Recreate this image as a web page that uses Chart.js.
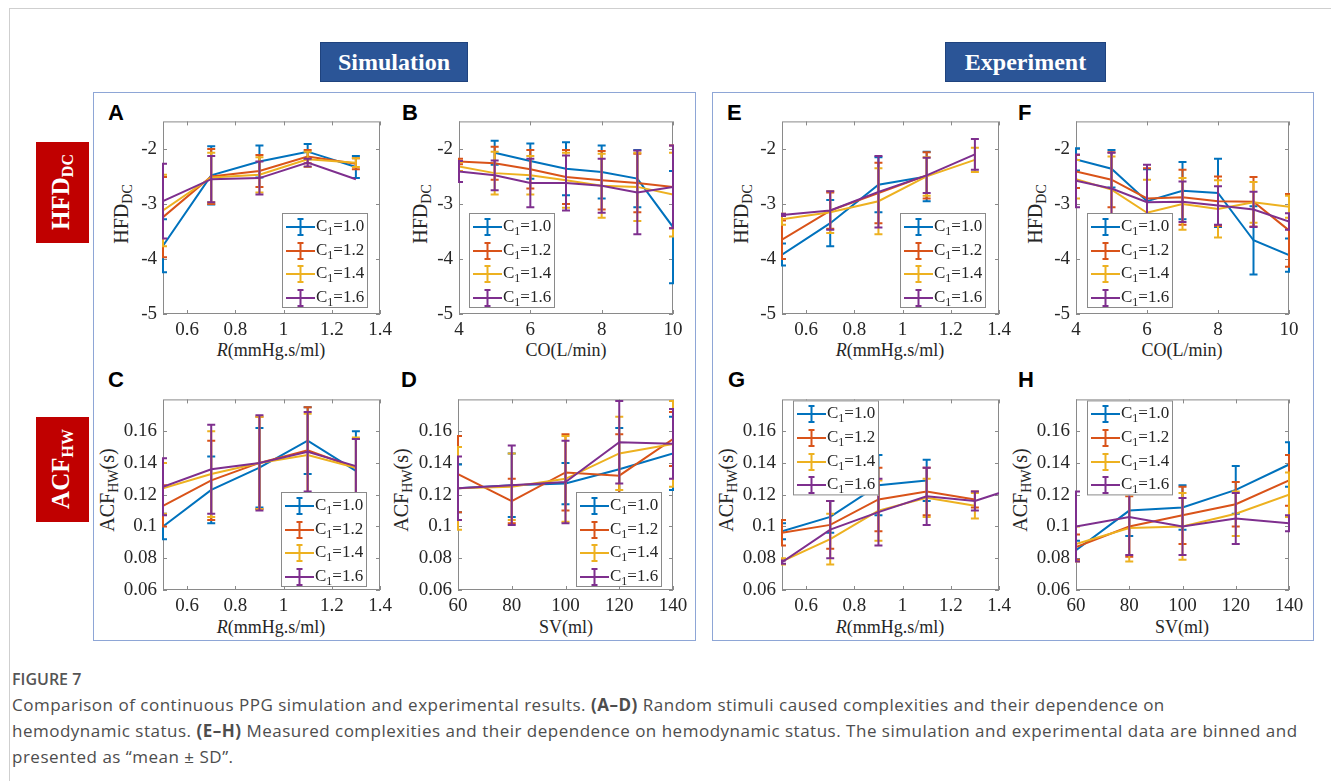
<!DOCTYPE html>
<html>
<head>
<meta charset="utf-8">
<script src="https://cdn.jsdelivr.net/npm/chart.js@4.4.0/dist/chart.umd.min.js"></script>
<style>
  body { margin: 0; background: #fff; width: 1331px; height: 781px; position: relative; overflow: hidden; font-family: "Liberation Serif", serif; }
  .frame { position: absolute; border-left: 1px solid #cfcfcf; border-top: 1px solid #cfcfcf; left: 9px; top: 8px; width: 1400px; height: 800px; }
  .hdr { position: absolute; background: #2b5597; color: #fff; font: bold 24px "Liberation Serif", serif; text-align: center; line-height: 40px; height: 40px; box-shadow: inset 0 0 0 1px #1f437e; }
  .group { position: absolute; border: 1.5px solid #8ea6d6; box-sizing: border-box; }
  .rowlab { position: absolute; background: #c00000; width: 53px; }
  .rot { position: absolute; transform: translate(-50%, -50%) rotate(-90deg); white-space: nowrap; }
  .rowlab .rot { color: #fff; font: bold 25px "Liberation Serif", serif; }
  .rowlab sub { font-size: 16px; vertical-align: -4px; }
  .ytit { font: 20px "Liberation Serif", serif; color: #262626; }
  .ytit sub { font-size: 14px; vertical-align: -4px; }
  .xtit { position: absolute; transform: translateX(-50%); white-space: nowrap; font: 18px "Liberation Serif", serif; color: #262626; }
  .letter { position: absolute; font: bold 22px "Liberation Sans", sans-serif; line-height: 22px; color: #000; }
  .panel { position: absolute; }
  .cap { position: absolute; left: 12px; font-family: "Open Sans", sans-serif; color: #4d4d4d; white-space: nowrap; }
  .txt { font-size: 17px; letter-spacing: 0.5px; }
</style>
</head>
<body>
<div class="frame"></div>

<div class="hdr" style="left:320px;top:42px;width:148px;">Simulation</div>
<div class="hdr" style="left:945px;top:42px;width:161px;">Experiment</div>

<div class="group" style="left:93px;top:92px;width:603px;height:549px;"></div>
<div class="group" style="left:712px;top:92px;width:602px;height:549px;"></div>

<div class="rowlab" style="left:36px;top:142px;height:101px;"><div class="rot" style="left:26px;top:50px;">HFD<sub>DC</sub></div></div>
<div class="rowlab" style="left:36px;top:417px;height:105px;"><div class="rot" style="left:26px;top:52px;">ACF<sub>HW</sub></div></div>

<div class="letter" style="left:108px;top:102px;">A</div>
<div class="letter" style="left:402px;top:102px;">B</div>
<div class="letter" style="left:727px;top:102px;">E</div>
<div class="letter" style="left:1018px;top:102px;">F</div>
<div class="letter" style="left:108px;top:369px;">C</div>
<div class="letter" style="left:401px;top:369px;">D</div>
<div class="letter" style="left:728px;top:369px;">G</div>
<div class="letter" style="left:1018px;top:369px;">H</div>

<div class="rot ytit" style="left:123px;top:214px;">HFD<sub>DC</sub></div>
<div class="rot ytit" style="left:422px;top:214px;">HFD<sub>DC</sub></div>
<div class="rot ytit" style="left:743px;top:214px;">HFD<sub>DC</sub></div>
<div class="rot ytit" style="left:1037px;top:214px;">HFD<sub>DC</sub></div>
<div class="rot ytit" style="left:109px;top:490px;">ACF<sub>HW</sub>(s)</div>
<div class="rot ytit" style="left:403px;top:490px;">ACF<sub>HW</sub>(s)</div>
<div class="rot ytit" style="left:728px;top:490px;">ACF<sub>HW</sub>(s)</div>
<div class="rot ytit" style="left:1022px;top:490px;">ACF<sub>HW</sub>(s)</div>

<div class="xtit" style="left:271px;top:340px;"><i>R</i>(mmHg.s/ml)</div>
<div class="xtit" style="left:566px;top:340px;">CO(L/min)</div>
<div class="xtit" style="left:890px;top:340px;"><i>R</i>(mmHg.s/ml)</div>
<div class="xtit" style="left:1182px;top:340px;">CO(L/min)</div>
<div class="xtit" style="left:271px;top:617px;"><i>R</i>(mmHg.s/ml)</div>
<div class="xtit" style="left:566px;top:617px;">SV(ml)</div>
<div class="xtit" style="left:890px;top:617px;"><i>R</i>(mmHg.s/ml)</div>
<div class="xtit" style="left:1182px;top:617px;">SV(ml)</div>

<div class="panel" id="pA"><canvas id="cA"></canvas></div>
<div class="panel" id="pB"><canvas id="cB"></canvas></div>
<div class="panel" id="pE"><canvas id="cE"></canvas></div>
<div class="panel" id="pF"><canvas id="cF"></canvas></div>
<div class="panel" id="pC"><canvas id="cC"></canvas></div>
<div class="panel" id="pD"><canvas id="cD"></canvas></div>
<div class="panel" id="pG"><canvas id="cG"></canvas></div>
<div class="panel" id="pH"><canvas id="cH"></canvas></div>

<div class="cap" style="top:668px;font-size:16px;font-weight:600;color:#555;">FIGURE 7</div>
<div class="cap txt" style="top:693px;">Comparison of continuous PPG simulation and experimental results. <b>(A–D)</b> Random stimuli caused complexities and their dependence on</div>
<div class="cap txt" style="top:719px;">hemodynamic status. <b>(E–H)</b> Measured complexities and their dependence on hemodynamic status. The simulation and experimental data are binned and</div>
<div class="cap txt" style="top:745px;">presented as “mean ± SD”.</div>

<script>
(() => {
    'use strict';

    // x positions
    const xsR = [0.5, 0.7, 0.9, 1.1, 1.3];
    const xsRg = [0.5, 0.7, 0.9, 1.1, 1.3, 1.5];
    const xsCO = [4, 5, 6, 7, 8, 9, 10];
    const xsSV = [60, 80, 100, 120, 140];

    // tick labels
    const rTicks = [0.6, 0.8, 1, 1.2, 1.4];
    const coTicks = [4, 6, 8, 10];
    const svTicks = [60, 80, 100, 120, 140];
    const hfdTicks = [-5, -4, -3, -2];
    const acfTicks = [0.06, 0.08, 0.1, 0.12, 0.14, 0.16];

    // series: C1 = 1.0, 1.2, 1.4, 1.6
    const c1Values = ['1.0', '1.2', '1.4', '1.6'];
    const COLORS = ['#0072BD', '#D95319', '#EDB120', '#7E2F8E'];

    // A - simulation HFD vs R
    const meanA = [
        [-3.76, -2.48, -2.23, -2.05, -2.33],
        [-3.24, -2.50, -2.40, -2.14, -2.27],
        [-3.12, -2.52, -2.47, -2.19, -2.25],
        [-2.95, -2.55, -2.53, -2.25, -2.55]
    ];
    const sdA = [
        [0.48, 0.53, 0.29, 0.14, 0.20],
        [0.73, 0.50, 0.29, 0.12, 0.10],
        [0.65, 0.45, 0.32, 0.14, 0.08],
        [0.68, 0.42, 0.30, 0.07, 0]
    ];

    // B - simulation HFD vs CO
    const meanB = [
        [null, -2.07, -2.22, -2.36, -2.42, -2.54, -3.42],
        [-2.23, -2.26, -2.37, -2.51, -2.57, -2.62, -2.69],
        [-2.32, -2.44, -2.48, -2.57, -2.67, -2.69, -2.83],
        [-2.41, -2.48, -2.62, -2.62, -2.67, -2.79, -2.69]
    ];
    const sdB = [
        [0, 0.22, 0.32, 0.48, 0.48, 0.52, 1.02],
        [0.05, 0.30, 0.35, 0.49, 0.53, 0.53, 0.75],
        [0.08, 0.39, 0.35, 0.50, 0.58, 0.62, 0.76],
        [0.19, 0.27, 0.44, 0.50, 0.49, 0.76, 0.75]
    ];

    // C - simulation ACF vs R
    const meanC = [
        [0.100, 0.123, 0.137, 0.154, 0.135],
        [0.113, 0.129, 0.140, 0.148, 0.137],
        [0.124, 0.133, 0.140, 0.145, 0.137],
        [0.125, 0.136, 0.140, 0.147, 0.138]
    ];
    const sdC = [
        [0.008, 0.021, 0.025, 0.021, 0.025],
        [0.013, 0.025, 0.029, 0.027, 0.018],
        [0.016, 0.027, 0.029, 0.026, 0.019],
        [0.018, 0.028, 0.030, 0.025, 0.017]
    ];

    // D - simulation ACF vs SV
    const meanD = [
        [0.124, 0.126, 0.127, 0.136, 0.146],
        [0.133, 0.116, 0.134, 0.132, 0.155],
        [0.124, 0.125, 0.130, 0.146, 0.152],
        [0.124, 0.126, 0.128, 0.153, 0.152]
    ];
    const sdD = [
        [0.015, 0.020, 0.013, 0.026, 0.023],
        [0.024, 0.014, 0.024, 0.026, 0.017],
        [0.026, 0.021, 0.027, 0.023, 0.027],
        [0.020, 0.025, 0.026, 0.026, 0.022]
    ];

    // E - experiment HFD vs R
    const meanE = [
        [-3.92, -3.35, -2.65, -2.50, null],
        [-3.65, -3.12, -2.80, -2.48, null],
        [-3.28, -3.15, -2.95, -2.50, -2.20],
        [-3.20, -3.12, -2.78, -2.48, -2.10]
    ];
    const sdE = [
        [0.20, 0.42, 0.50, 0.45, 0],
        [0.35, 0.33, 0.55, 0.42, 0],
        [0.10, 0.38, 0.60, 0.35, 0.22],
        [0.02, 0.35, 0.65, 0.32, 0.28]
    ];

    // F - experiment HFD vs CO
    const meanF = [
        [-2.19, -2.36, -2.95, -2.76, -2.80, -3.66, -3.93],
        [-2.41, -2.56, -2.90, -2.88, -2.95, -2.96, -3.48],
        [-2.55, -2.74, -3.16, -3.00, -3.09, -2.97, -3.05],
        [-2.58, -2.72, -2.97, -2.96, -3.03, -3.10, -3.32]
    ];
    const sdF = [
        [0.20, 0.34, 0.58, 0.52, 0.62, 0.62, 0.30],
        [0.30, 0.50, 0.55, 0.50, 0.45, 0.45, 0.66],
        [0.35, 0.60, 0.60, 0.47, 0.52, 0.37, 0.20],
        [0.48, 0.65, 0.68, 0.37, 0.35, 0.32, 0.15]
    ];

    // G - experiment ACF vs R
    const meanG = [
        [0.097, 0.106, 0.126, 0.129, null, null],
        [0.096, 0.101, 0.117, 0.122, 0.117, null],
        [0.078, 0.092, 0.110, 0.118, 0.113, null],
        [0.0775, 0.098, 0.109, 0.119, 0.116, 0.126]
    ];
    const sdG = [
        [0.005, 0.010, 0.019, 0.013, 0, 0],
        [0.008, 0.015, 0.020, 0.015, 0.005, 0],
        [0.002, 0.016, 0.019, 0.012, 0.008, 0],
        [0.001, 0.018, 0.021, 0.018, 0.006, 0]
    ];

    // H - experiment ACF vs SV
    const meanH = [
        [0.085, 0.110, 0.112, 0.123, 0.139],
        [0.087, 0.100, 0.107, 0.114, 0.129],
        [0.089, 0.099, 0.100, 0.108, 0.120],
        [0.100, 0.106, 0.100, 0.105, 0.102]
    ];
    const sdH = [
        [0.006, 0.016, 0.014, 0.015, 0.014],
        [0.008, 0.019, 0.018, 0.014, 0.016],
        [0.011, 0.021, 0.021, 0.014, 0.014],
        [0.022, 0.024, 0.018, 0.016, 0.005]
    ];

    const TEXT = '#262626';
    const FONT = 'Liberation Serif';
    const Y_W = 50, X_H = 32, PAD_T = 10, PAD_R = 22;

    // box around the axes with inward tick marks
    const axesBox = {
        id: 'axesBox',
        beforeDatasetsDraw(chart) {
            const {ctx, chartArea: a, scales} = chart;
            ctx.save();
            ctx.strokeStyle = '#8a8a8a';
            ctx.lineWidth = 1;
            ctx.strokeRect(a.left + 0.5, a.top + 0.5, a.width - 1, a.height - 1);
            ctx.beginPath();
            scales.x.ticks.forEach(t => {
                const x = Math.round(scales.x.getPixelForValue(t.value)) + 0.5;
                ctx.moveTo(x, a.bottom); ctx.lineTo(x, a.bottom - 4);
                ctx.moveTo(x, a.top); ctx.lineTo(x, a.top + 4);
            });
            scales.y.ticks.forEach(t => {
                const y = Math.round(scales.y.getPixelForValue(t.value)) + 0.5;
                ctx.moveTo(a.left, y); ctx.lineTo(a.left + 4, y);
                ctx.moveTo(a.right, y); ctx.lineTo(a.right - 4, y);
            });
            ctx.stroke();
            ctx.restore();
        }
    };

    // mean +- SD bars, drawn right after each series so the order matches
    const errorBars = {
        id: 'errorBars',
        afterDatasetDraw(chart, args) {
            const ds = chart.data.datasets[args.index];
            const ys = chart.scales.y;
            const a = chart.chartArea;
            const ctx = chart.ctx;
            ctx.save();
            ctx.beginPath();
            ctx.rect(a.left - 1, a.top - 1, a.width + 2, a.height + 2);
            ctx.clip();
            ctx.strokeStyle = ds.borderColor;
            ctx.lineWidth = 2;
            args.meta.data.forEach((pt, i) => {
                const m = ds.data[i].y;
                const s = ds.sd[i];
                if (m === null || !s) return;
                const top = ys.getPixelForValue(m + s);
                const bot = ys.getPixelForValue(m - s);
                ctx.beginPath();
                ctx.moveTo(pt.x, top); ctx.lineTo(pt.x, bot);
                ctx.moveTo(pt.x - 4, top); ctx.lineTo(pt.x + 4, top);
                ctx.moveTo(pt.x - 4, bot); ctx.lineTo(pt.x + 4, bot);
                ctx.stroke();
            });
            ctx.restore();
        }
    };

    // MATLAB style legend box inside the axes
    const legendBox = {
        id: 'legendBox',
        afterDraw(chart, args, opts) {
            const {ctx, chartArea: a} = chart;
            const w = 86, h = 95;
            const x0 = opts.side === 'left' ? a.left + opts.dx : a.right - opts.dx - w;
            const y0 = opts.top ? a.top + opts.dy : a.bottom - opts.dy - h;
            ctx.save();
            ctx.fillStyle = '#fff';
            ctx.fillRect(x0, y0, w, h);
            ctx.strokeStyle = '#8a8a8a';
            ctx.lineWidth = 1;
            ctx.strokeRect(x0 + 0.5, y0 + 0.5, w - 1, h - 1);
            chart.data.datasets.forEach((ds, i) => {
                const cy = Math.round(y0 + 14 + i * 23.6);
                const ex = x0 + 18.5;
                ctx.strokeStyle = ds.borderColor;
                ctx.lineWidth = 2;
                ctx.beginPath();
                ctx.moveTo(x0 + 4, cy); ctx.lineTo(x0 + 33, cy);
                ctx.moveTo(ex, cy - 8); ctx.lineTo(ex, cy + 8);
                ctx.moveTo(ex - 3, cy - 8); ctx.lineTo(ex + 3, cy - 8);
                ctx.moveTo(ex - 3, cy + 8); ctx.lineTo(ex + 3, cy + 8);
                ctx.stroke();

                ctx.fillStyle = TEXT;
                ctx.textBaseline = 'middle';
                ctx.textAlign = 'left';
                let tx = x0 + 34;
                ctx.font = '17px "' + FONT + '"';
                ctx.fillText('C', tx, cy);
                tx += ctx.measureText('C').width;
                ctx.font = '12px "' + FONT + '"';
                ctx.fillText('1', tx, cy + 5);
                tx += ctx.measureText('1').width;
                ctx.font = '17px "' + FONT + '"';
                ctx.fillText('=' + ds.label, tx, cy);
            });
            ctx.restore();
        }
    };

    function tickFont() {
        return {family: FONT, size: 19};
    }

    function makePanel(p) {
        const wrap = document.getElementById('p' + p.id);
        const canvas = document.getElementById('c' + p.id);
        const w = p.plot[2] + Y_W + PAD_R;
        const h = p.plot[3] + PAD_T + X_H;
        wrap.style.left = (p.plot[0] - Y_W) + 'px';
        wrap.style.top = (p.plot[1] - PAD_T) + 'px';
        canvas.width = w;
        canvas.height = h;
        canvas.style.width = w + 'px';
        canvas.style.height = h + 'px';

        const datasets = p.means.map((row, i) => ({
            label: c1Values[i],
            data: p.xs.map((x, j) => ({x: x, y: row[j]})),
            sd: p.sds[i],
            borderColor: COLORS[i],
            backgroundColor: COLORS[i],
            borderWidth: 2,
            pointRadius: 0,
            tension: 0,
            order: 4 - i
        }));

        new Chart(canvas.getContext('2d'), {
            type: 'line',
            data: {datasets: datasets},
            plugins: [axesBox, errorBars, legendBox],
            options: {
                responsive: false,
                animation: false,
                devicePixelRatio: 1,
                layout: {padding: {top: PAD_T, right: PAD_R, left: 0, bottom: 0}},
                plugins: {
                    legend: {display: false},
                    tooltip: {enabled: false},
                    legendBox: p.legend
                },
                scales: {
                    x: {
                        type: 'linear',
                        min: p.xMin,
                        max: p.xMax,
                        afterBuildTicks: s => { s.ticks = p.xTicks.map(v => ({value: v})); },
                        afterFit: s => { s.height = X_H; },
                        grid: {display: false, drawTicks: false},
                        border: {display: false},
                        ticks: {padding: 5, color: TEXT, font: tickFont(), maxRotation: 0, autoSkip: false, callback: v => String(v)}
                    },
                    y: {
                        type: 'linear',
                        min: p.yMin,
                        max: p.yMax,
                        afterBuildTicks: s => { s.ticks = p.yTicks.map(v => ({value: v})); },
                        afterFit: s => { s.width = Y_W; },
                        grid: {display: false, drawTicks: false},
                        border: {display: false},
                        ticks: {padding: 6, color: TEXT, font: tickFont(), autoSkip: false, callback: v => String(v)}
                    }
                }
            }
        });
    }

    const hfd = {yMin: -5, yMax: -1.5, yTicks: hfdTicks};
    const acf = {yMin: 0.06, yMax: 0.18, yTicks: acfTicks};
    const rAxis = {xMin: 0.5, xMax: 1.4, xTicks: rTicks};
    const coAxis = {xMin: 4, xMax: 10, xTicks: coTicks};
    const svAxis = {xMin: 60, xMax: 140, xTicks: svTicks};

    makePanel(Object.assign({id: 'A', plot: [163, 114, 217, 200], xs: xsR, means: meanA, sds: sdA,
        legend: {side: 'right', dx: 12, dy: 6}}, hfd, rAxis));
    makePanel(Object.assign({id: 'B', plot: [459, 114, 214, 200], xs: xsCO, means: meanB, sds: sdB,
        legend: {side: 'left', dx: 10, dy: 6}}, hfd, coAxis));
    makePanel(Object.assign({id: 'E', plot: [782, 114, 217, 200], xs: xsR, means: meanE, sds: sdE,
        legend: {side: 'right', dx: 13, dy: 6}}, hfd, rAxis));
    makePanel(Object.assign({id: 'F', plot: [1076, 114, 213, 200], xs: xsCO, means: meanF, sds: sdF,
        legend: {side: 'left', dx: 11, dy: 6}}, hfd, coAxis));
    makePanel(Object.assign({id: 'C', plot: [163, 392, 217, 198], xs: xsR, means: meanC, sds: sdC,
        legend: {side: 'right', dx: 13, dy: 3}}, acf, rAxis));
    makePanel(Object.assign({id: 'D', plot: [458, 392, 215, 198], xs: xsSV, means: meanD, sds: sdD,
        legend: {side: 'right', dx: 11, dy: 3}}, acf, svAxis));
    makePanel(Object.assign({id: 'G', plot: [782, 392, 217, 198], xs: xsRg, means: meanG, sds: sdG,
        legend: {side: 'left', top: true, dx: 11, dy: 1}}, acf, rAxis));
    makePanel(Object.assign({id: 'H', plot: [1076, 392, 213, 198], xs: xsSV, means: meanH, sds: sdH,
        legend: {side: 'left', top: true, dx: 11, dy: 1}}, acf, svAxis));
})();
</script>
</body>
</html>
